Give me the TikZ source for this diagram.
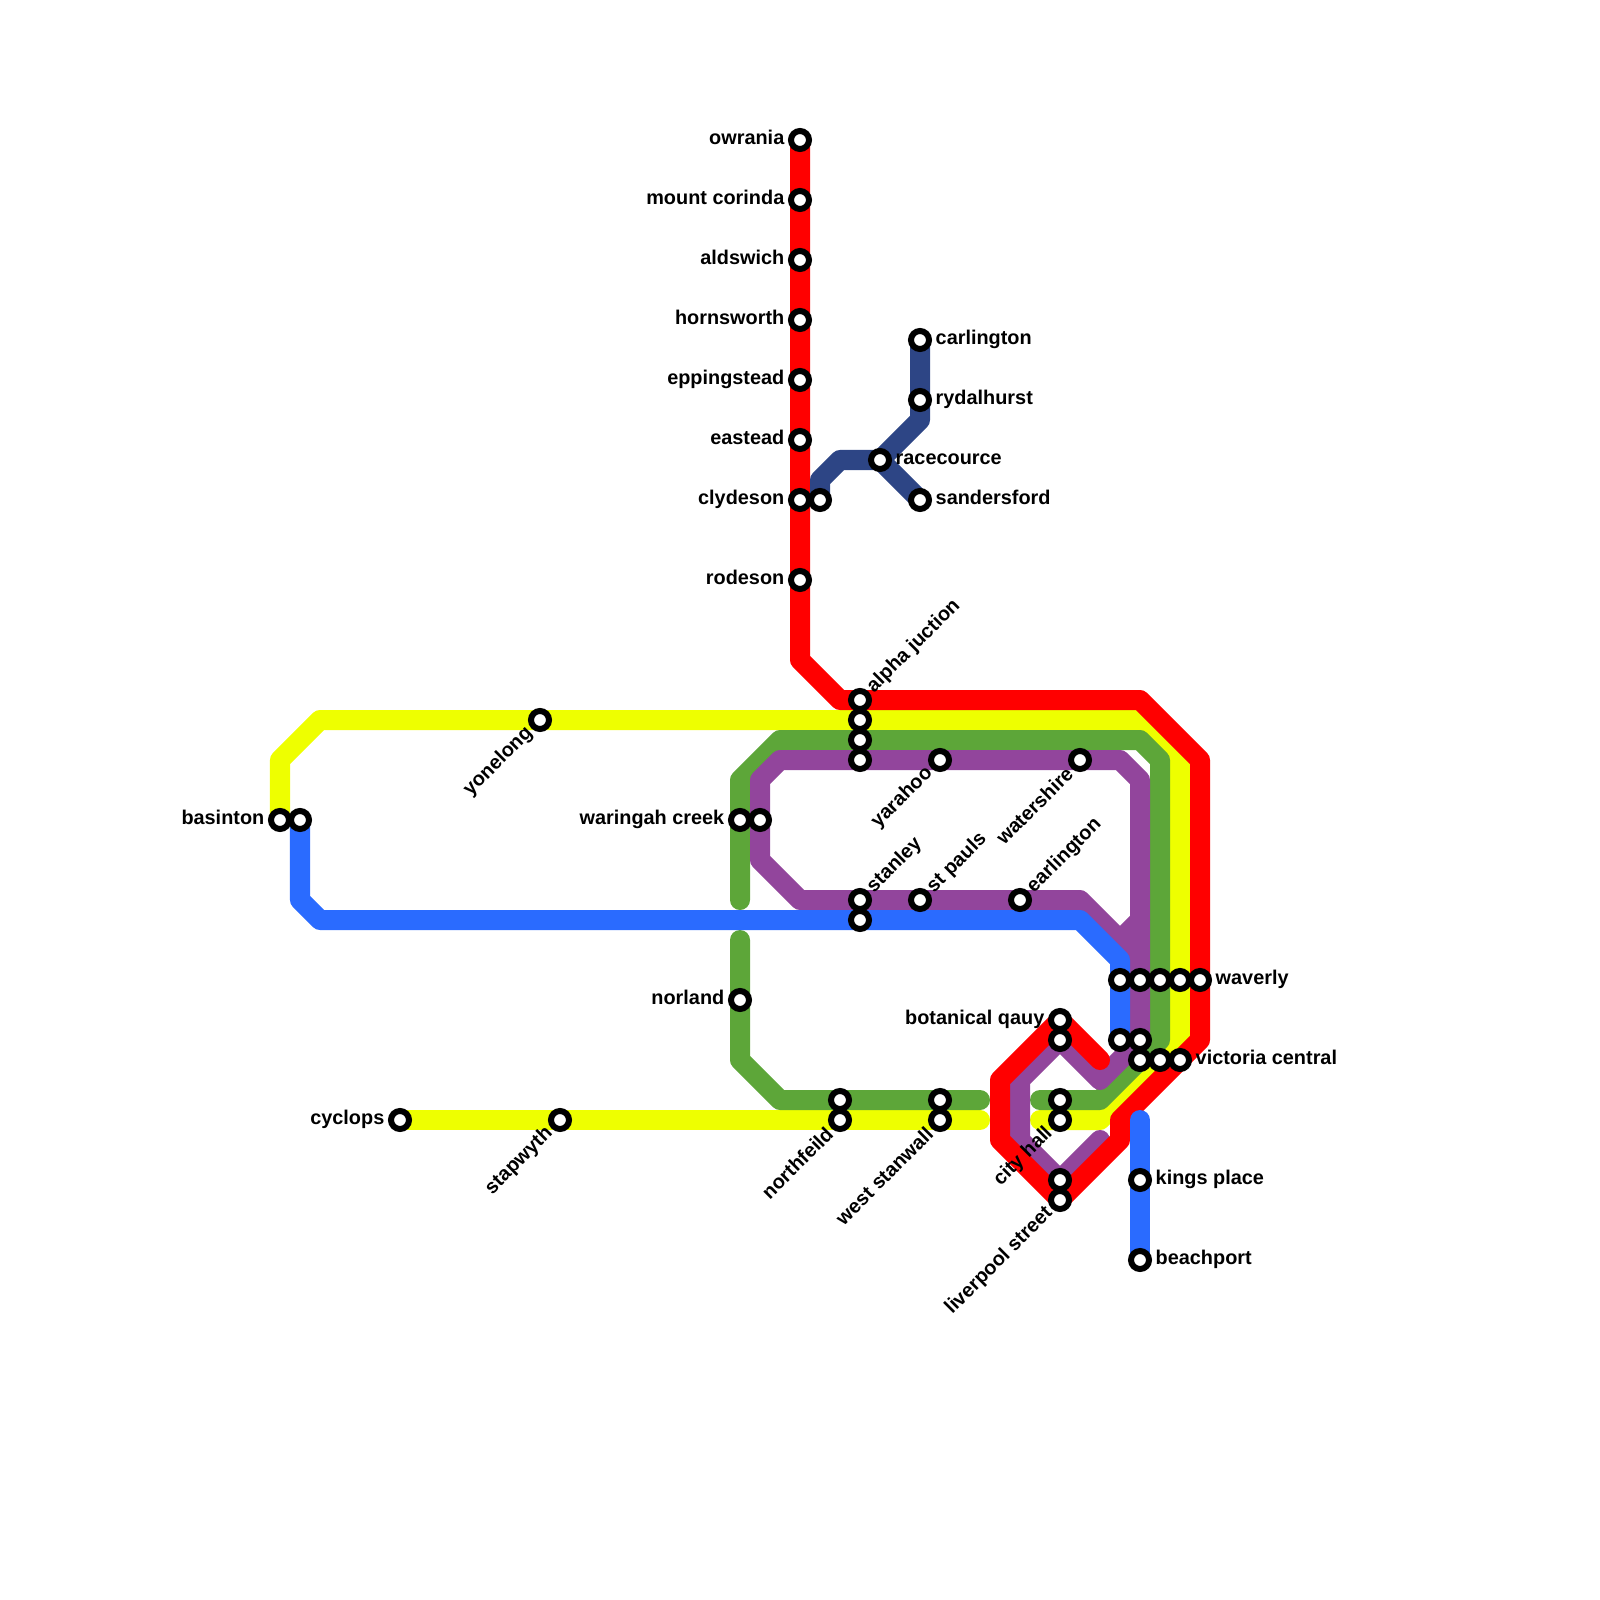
\documentclass[tikz,border=0pt]{standalone}
\usepackage{fontspec}
\setmainfont{Liberation Sans}
\usetikzlibrary{backgrounds}
\definecolor{lred}{HTML}{FF0000}
\definecolor{lyellow}{HTML}{EEFF00}
\definecolor{lgreen}{HTML}{5DA639}
\definecolor{lpurple}{HTML}{92459C}
\definecolor{lblue}{HTML}{2A6BFF}
\definecolor{lnavy}{HTML}{2D4585}
\begin{document}
\begin{tikzpicture}[x=0.01cm, y=-0.01cm,
  font=\bfseries\fontsize{5.65}{6.5}\selectfont,
  metro/.style={line width=0.2cm, line join=round, line cap=round},
  stn/.style={circle, draw=black, fill=white, line width=0.06cm, minimum size=0.18cm, inner sep=0pt},
  lab/.style={inner sep=0pt, text=black}]
\useasboundingbox (0,0) rectangle (1600,1600);
% stations, by side of the label
\foreach \x/\y/\id/\name in {800/140/owrania/owrania, 800/200/corinda/mount corinda, 800/260/aldswich/aldswich,
  800/320/hornsworth/hornsworth, 800/380/eppingstead/eppingstead, 800/440/eastead/eastead, 800/500/clydeson/clydeson,
  800/580/rodeson/rodeson, 280/820/basinton/basinton, 740/820/waringah/waringah creek, 740/1000/norland/norland,
  400/1120/cyclops/cyclops, 1060/1020/qauy/botanical qauy} {
  \node[stn] (\id) at (\x,\y) {};
  \node[lab, anchor=base east] (\id-lab) at ([shift={(-15,4.8)}]\id.center) {\name};
}
\foreach \x/\y/\id/\name in {920/340/carlington/carlington, 920/400/rydalhurst/rydalhurst, 880/460/racecource/racecource,
  920/500/sandersford/sandersford, 1200/980/waverly/waverly, 1180/1060/central/victoria central,
  1140/1180/kings/kings place, 1140/1260/beachport/beachport} {
  \node[stn] (\id) at (\x,\y) {};
  \node[lab, anchor=base west] (\id-lab) at ([shift={(15,4.8)}]\id.center) {\name};
}
\foreach \x/\y/\id/\name in {860/700/alpha/alpha juction, 860/900/stanley/stanley, 920/900/pauls/st pauls, 1020/900/earlington/earlington} {
  \node[stn] (\id) at (\x,\y) {};
  \node[lab, anchor=west, rotate=45] (\id-lab) at ([shift={(10,-10)}]\id.center) {\name};
}
\foreach \x/\y/\id/\name in {540/720/yonelong/yonelong, 560/1120/stapwyth/stapwyth, 840/1120/northfeild/northfeild,
  940/1120/stanwall/west stanwall, 940/760/yarahoo/yarahoo, 1080/760/watershire/watershire, 1060/1120/hall/city hall,
  1060/1200/liverpool/liverpool street} {
  \node[stn] (\id) at (\x,\y) {};
  \node[lab, anchor=east, rotate=45] (\id-lab) at ([shift={(-10,10)}]\id.center) {\name};
}
% stations with no label
\foreach \x/\y/\id in {820/500/clydesonb, 300/820/basintonb, 760/820/waringahb, 860/720/alphay, 860/740/alphag, 860/760/alphap,
  860/920/stanleyb, 840/1100/northfeildg, 940/1100/stanwallg, 1060/1100/hallg, 1060/1040/qauyb, 1060/1180/liverpoolb,
  1120/980/waverlyb, 1140/980/waverlyp, 1160/980/waverlyg, 1180/980/waverlyy,
  1120/1040/centralb, 1140/1040/centralp, 1140/1060/centralq, 1160/1060/centralg} {
  \node[stn] (\id) at (\x,\y) {};
}
% bends
\foreach \id/\x/\y in {r1/800/660, r2/840/700, r3/1140/700, r4/1200/760, r5/1200/1040, r6/1120/1120, r7/1120/1140,
  r8/1000/1140, r9/1000/1080, r10/1100/1060,
  y1/980/1120, y2/1040/1120, y3/1100/1120, y4/1180/1040, y5/1180/760, y6/1140/720, y7/320/720, y8/280/760,
  g1/740/900, g2/740/780, g3/780/740, g4/1140/740, g5/1160/760, g6/1160/1040, g7/1100/1100, g8/1040/1100,
  g9/980/1100, g10/780/1100, g11/740/1060, g12/740/940,
  p1/1140/780, p2/1120/760, p3/780/760, p4/760/780, p5/760/860, p6/800/900, p7/1080/900, p8/1140/960,
  p9/1100/1080, p10/1020/1080, p11/1020/1140, p12/1100/1140, p13/1140/920, p14/1120/940,
  b1/300/900, b2/320/920, b3/1080/920, b4/1120/960, b5/1140/1120,
  n1/920/420, n2/840/460, n3/820/480} {
  \coordinate (\id) at (\x,\y);
}
\begin{scope}[on background layer]
\draw[metro, lyellow] (cyclops.center) -- (y1);
\draw[metro, lyellow] (y2) -- (y3) -- (y4) -- (y5) -- (y6) -- (y7) -- (y8) -- (basinton.center);
\draw[metro, lgreen] (g1) -- (g2) -- (g3) -- (g4) -- (g5) -- (g6) -- (g7) -- (g8);
\draw[metro, lgreen] (g9) -- (g10) -- (g11) -- (g12);
\draw[metro, lpurple] (centralp.center) -- (p1) -- (p2) -- (p3) -- (p4) -- (p5) -- (p6) -- (p7) -- (p8) -- (centralp.center)
  -- (p9) -- (qauyb.center) -- (p10) -- (p11) -- (liverpoolb.center) -- (p12);
\draw[metro, lpurple] (p13) -- (p14);
\draw[metro, lred] (owrania.center) -- (r1) -- (r2) -- (r3) -- (r4) -- (r5) -- (r6) -- (r7) -- (liverpool.center) -- (r8) -- (r9) -- (qauy.center) -- (r10);
\draw[metro, lblue] (basintonb.center) -- (b1) -- (b2) -- (b3) -- (b4) -- (centralb.center);
\draw[metro, lblue] (b5) -- (beachport.center);
\draw[metro, lnavy] (carlington.center) -- (n1) -- (racecource.center) -- (n2) -- (n3) -- (clydesonb.center);
\draw[metro, lnavy] (racecource.center) -- (sandersford.center);
\end{scope}
\end{tikzpicture}
\end{document}
